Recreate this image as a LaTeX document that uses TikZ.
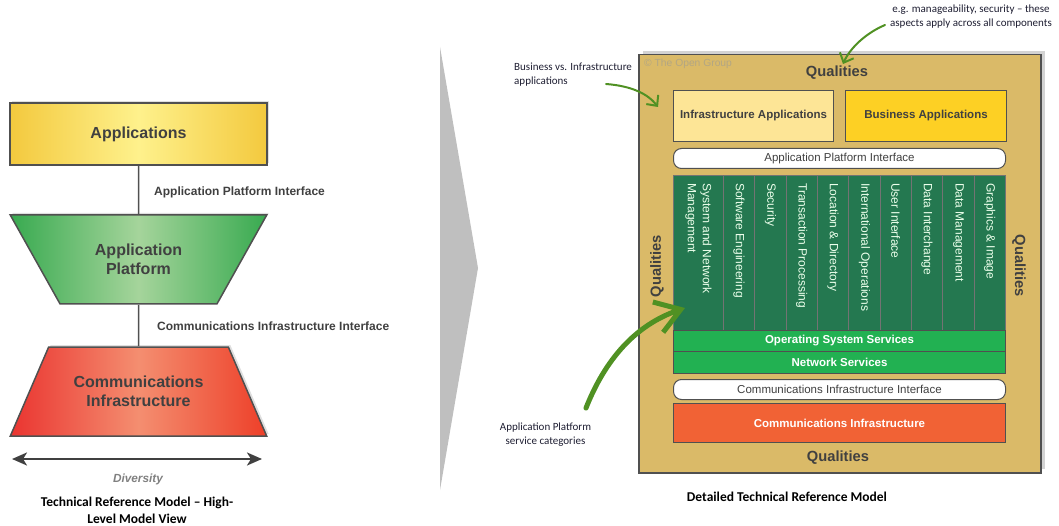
\documentclass[tikz,border=0pt]{standalone}
\usepackage{fontspec}
\setmainfont{Liberation Sans}
\newfontfamily\calibri{Carlito}
\usetikzlibrary{shapes.geometric,arrows.meta,shadows,positioning}

\definecolor{txtgray}{RGB}{64,64,64}
\definecolor{edgegray}{RGB}{80,80,80}
\definecolor{appgold}{RGB}{243,201,62}
\definecolor{applight}{RGB}{254,241,140}
\definecolor{platgreen}{RGB}{56,170,80}
\definecolor{platlight}{RGB}{165,212,155}
\definecolor{commred}{RGB}{234,52,48}
\definecolor{commlight}{RGB}{244,142,112}
\definecolor{qualtan}{RGB}{218,186,104}
\definecolor{copygray}{RGB}{178,166,132}
\definecolor{infyel}{RGB}{253,229,150}
\definecolor{busgold}{RGB}{253,208,36}
\definecolor{svcgreen}{RGB}{36,120,80}
\definecolor{osgreen}{RGB}{34,177,82}
\definecolor{commorange}{RGB}{241,98,53}
\definecolor{notegreen}{RGB}{80,145,35}
\definecolor{notetxt}{RGB}{30,30,50}

\begin{document}
\begin{tikzpicture}[x=1pt,y=-1pt,>=latex,
  shapetxt/.style={font=\bfseries\fontsize{16}{19}\selectfont,text=txtgray,align=center},
  lbl/.style={anchor=west,inner sep=0pt,font=\bfseries\fontsize{12}{14}\selectfont,text=txtgray},
  trap/.style={trapezium,trapezium angle=48,trapezium stretches=true,minimum width=257pt,
    minimum height=89pt,inner sep=0pt,draw=edgegray,line width=1.5pt,
    drop shadow={shadow xshift=2pt,shadow yshift=2pt,opacity=0.25}},
  box/.style={draw=edgegray,line width=1pt,anchor=north west,inner sep=0pt,
    font=\bfseries\fontsize{11.5}{13}\selectfont},
  bar/.style={box,rounded corners=8pt,fill=white,minimum width=332pt,minimum height=20pt,
    font=\fontsize{11.5}{13}\selectfont,text=txtgray},
  col/.style={draw=edgegray!80,line width=0.8pt,fill=svcgreen,anchor=north west,
    minimum height=155pt,inner sep=0pt},
  coltxt/.style={rotate=-90,anchor=west,align=left,inner sep=0pt,text=white!92!green,
    font=\fontsize{12}{15}\selectfont},
  qual/.style={font=\bfseries\fontsize{14.7}{17}\selectfont,text=txtgray},
  note/.style={draw=notegreen,line width=2pt,line cap=round,-{Straight Barb[length=8pt,width=15pt]}},
  notetext/.style={font=\calibri\fontsize{11}{14}\selectfont,text=notetxt,align=center},
  caption/.style={font=\calibri\bfseries\fontsize{13.5}{17}\selectfont,align=center}]
\useasboundingbox (0,0) rectangle (1059,526);

% high-level view
\node[draw=edgegray,line width=1.5pt,minimum width=257pt,minimum height=62pt,
  left color=appgold,right color=appgold,middle color=applight,shapetxt,
  drop shadow={shadow xshift=2pt,shadow yshift=2pt,opacity=0.25}] (apps) at (138.5,134) {Applications};
\node[trap,shape border rotate=180,left color=platgreen,right color=platgreen,
  middle color=platlight,shapetxt] (plat) at (138.5,259.5) {Application\\Platform};
\node[trap,left color=commred,right color=commred!85!orange,middle color=commlight,
  shapetxt] (comm) at (138.5,391.5) {Communications\\Infrastructure};
\draw[edgegray,line width=1.5pt] (apps) -- (plat);
\draw[edgegray,line width=1.5pt] (plat) -- (comm);
\node[lbl] (api) at (154,192) {Application Platform Interface};
\node[lbl] (cii) at (157,326) {Communications Infrastructure Interface};
\coordinate (divl) at (12,459);
\coordinate (divr) at (262,459);
\draw[txtgray,line width=2.5pt,{Stealth[length=15pt,width=13pt,inset=4pt]}-{Stealth[length=15pt,width=13pt,inset=4pt]}] (divl) -- (divr);
\node[font=\bfseries\itshape\fontsize{11.8}{14}\selectfont,text=gray] (div) at (138,479) {Diversity};
\node[caption] (capl) at (137,510.5) {Technical Reference Model – High-\\Level Model View};

% chevron
\fill[gray!50] (440,47) -- (478,268) -- (440,490) -- cycle;

% detailed view
\node[draw=edgegray,line width=1.5pt,fill=qualtan,minimum width=402pt,minimum height=418pt,
  anchor=north west,drop shadow={shadow xshift=4pt,shadow yshift=4pt,opacity=0.35}] (frame) at (638,54) {};
\node[anchor=west,inner sep=0pt,font=\fontsize{10.3}{12}\selectfont,text=copygray] (copy) at (644,64) {© The Open Group};
\node[qual] (qtop) at (837,73) {Qualities};
\node[qual] (qbot) at (838,458) {Qualities};
\node[qual,rotate=90] (qleft) at (657,266) {Qualities};
\node[qual,rotate=-90] (qright) at (1019,266) {Qualities};

\node[box,fill=infyel,minimum width=160pt,minimum height=51pt,text=txtgray] (infapps) at (673,90) {Infrastructure Applications};
\node[box,fill=busgold,minimum width=161pt,minimum height=51pt,text=txtgray] (busapps) at (845,90) {Business Applications};
\node[bar] (apibar) at (673,148) {Application Platform Interface};

\node[col,minimum width=50pt] (c1) at (673,175) {};
\foreach \i in {2,...,10}
  \node[col,minimum width=31.33pt] (c\i) at ({723+(\i-2)*31.33},175) {};
\foreach \i/\txt in {1/{System and Network\\Management},2/Software Engineering,3/Security,
    4/Transaction Processing,5/Location \& Directory,6/International Operations,
    7/User Interface,8/Data Interchange,9/Data Management,10/Graphics \& Image}
  \node[coltxt] (t\i) at ([yshift=-8pt]c\i.north) {\txt};

\node[box,fill=osgreen,minimum width=332pt,minimum height=21pt,text=white] (ossvc) at (673,330) {Operating System Services};
\node[box,fill=osgreen,minimum width=332pt,minimum height=22pt,text=white] (netsvc) at (673,351) {Network Services};
\node[bar] (ciibar) at (673,379) {Communications Infrastructure Interface};
\node[box,fill=commorange,minimum width=332pt,minimum height=39pt,text=white] (comminf) at (673,403) {Communications Infrastructure};
\node[caption] (capr) at (787,497) {Detailed Technical Reference Model};

% notes
\node[notetext,align=left,anchor=north west,inner sep=0pt] (n1) at (514,63) {Business vs. Infrastructure\\applications};
\coordinate (n1s) at (606,84);
\coordinate (n1e) at (658,107);
\draw[note] (n1s) .. controls (632,86) and (648,94) .. (n1e);
\node[notetext] (n2) at (971,17) {e.g. manageability, security – these\\aspects apply across all components};
\coordinate (n2s) at (885,25);
\coordinate (n2e) at (843,64);
\draw[note] (n2s) .. controls (866,33) and (850,48) .. (n2e);
\node[notetext] (n3) at (545.5,435) {Application Platform\\service categories};
\coordinate (n3s) at (586,408);
\coordinate (n3e) at (685,308);
\draw[note,line width=5pt,-{Straight Barb[length=24pt,width=32pt]}] (n3s) .. controls (605,360) and (635,325) .. (n3e);
\end{tikzpicture}
\end{document}
